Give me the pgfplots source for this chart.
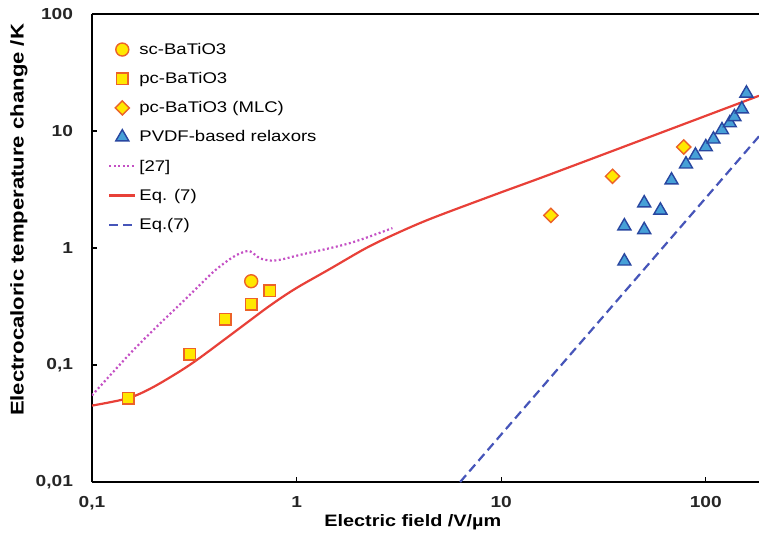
\documentclass[border=0pt]{standalone}
\usepackage{pgfplots}
\pgfplotsset{compat=1.18}
\usepackage{fontspec}
\setmainfont[FakeStretch=1.2]{Liberation Sans}

\definecolor{mkfill}{RGB}{255,232,0}
\definecolor{mkedge}{RGB}{236,98,40}
\definecolor{trifill}{RGB}{70,160,215}
\definecolor{triedge}{RGB}{40,70,160}
\definecolor{redline}{RGB}{232,64,56}
\definecolor{dotline}{RGB}{196,80,196}
\definecolor{dashline}{RGB}{70,85,185}

\begin{document}
\begin{tikzpicture}
\begin{axis}[
    width=667bp, height=468bp, scale only axis,
    xmode=log, ymode=log,
    xmin=0.1, xmax=182, ymin=0.01, ymax=100,
    axis x line=box, axis y line=left,
    x axis line style={-}, y axis line style={-},
    axis line style={line width=1.6bp, black},
    tick align=inside, xtick pos=left, ytick pos=left,
    major tick length=5bp,
    every tick/.style={black, line width=1.2bp},
    xminorticks=false, yminorticks=false,
    xtick={0.1,1,10,100}, xticklabels={{0,1},1,10,100},
    ytick={0.01,0.1,1,10,100}, yticklabels={{0,01},{0,1},1,10,100},
    tick label style={font=\bfseries\fontsize{16}{18}\selectfont, text=black!85},
    yticklabel style={xshift=-15.5bp},
    xticklabel style={yshift=-11bp},
    xlabel={Electric field /V/µm},
    ylabel={Electrocaloric temperature change /K},
    xlabel style={font=\bfseries\fontsize{16.6}{18}\selectfont, at={(axis description cs:0.481,-0.0855)}, anchor=center},
    ylabel style={font=\bfseries\fontsize{18.5}{20}\selectfont, at={(axis description cs:-0.1094,0.56)}, anchor=center},
    legend cell align=left,
    legend image code/.code={\draw[mark repeat=2,mark phase=2,#1] plot coordinates {(0bp,0bp)(13bp,0bp)(26bp,0bp)};},
    legend style={draw=none, fill=none, at={(axis description cs:0,1)}, anchor=north west,
        xshift=16bp, yshift=-27bp, font=\fontsize{15.5}{18}\selectfont,
        row sep=12.5bp, column sep=1bp, inner sep=0pt, nodes={inner sep=2bp}},
]
% model curves
\addplot[forget plot, redline, line width=2.2bp, smooth] coordinates {
 (0.1,0.045) (0.15,0.052) (0.2,0.065) (0.3,0.10) (0.45,0.168) (0.6,0.245)
 (0.71,0.305) (0.85,0.38) (1.03,0.47) (1.45,0.66) (2.19,1.0) (3.1,1.34)
 (4.6,1.8) (9.78,2.95) (19.2,4.55) (182,20)};
\addplot[forget plot, dotline, line width=2.2bp, dash pattern=on 2bp off 2.5bp, smooth] coordinates {
 (0.1,0.055) (0.15,0.12) (0.2,0.2) (0.29,0.374) (0.39,0.62) (0.47,0.8)
 (0.53,0.9) (0.59,0.94) (0.66,0.82) (0.75,0.78) (0.85,0.8) (1.03,0.87)
 (1.82,1.1) (2.94,1.48)};
\addplot[forget plot, dashline, line width=2.2bp, dash pattern=on 9bp off 5bp] coordinates {
 (6.3,0.01) (182,9.0)};
% measurements
\addplot[only marks, mark=*, mark size=6.5bp, mark options={fill=mkfill, draw=mkedge, line width=1.4bp}]
 coordinates {(0.6,0.52)};
\addlegendentry{sc-BaTiO3}
\addplot[only marks, mark=square*, mark size=5.8bp, mark options={fill=mkfill, draw=mkedge, line width=1.4bp}]
 coordinates {(0.15,0.052) (0.3,0.124) (0.447,0.247) (0.6,0.332) (0.74,0.43)};
\addlegendentry{pc-BaTiO3}
\addplot[only marks, mark=square*, mark size=5bp, mark options={rotate=45, fill=mkfill, draw=mkedge, line width=1.4bp}]
 coordinates {(17.5,1.9) (35,4.1) (78,7.3)};
\addlegendentry{pc-BaTiO3 (MLC)}
\addplot[only marks, mark=triangle*, mark size=7.5bp, mark options={fill=trifill, draw=triedge, line width=1.4bp}]
 coordinates {(40,0.77) (40,1.54) (50,1.43) (50,2.42) (60,2.1) (68,3.8) (80,5.2)
 (89,6.2) (100,7.3) (109,8.5) (120,10.2) (131,11.7) (138,13.2) (150,15.4) (158,21)};
\addlegendentry{PVDF-based relaxors}
\addlegendimage{dotline, line width=2.2bp, dash pattern=on 2bp off 2.5bp}
\addlegendentry{[27]}
\addlegendimage{redline, line width=2.2bp}
\addlegendentry{Eq. (7)}
\addlegendimage{dashline, line width=2.2bp, dash pattern=on 9bp off 5bp}
\addlegendentry{Eq.(7)}
\coordinate (ll) at (rel axis cs:0,0);
\coordinate (ur) at (rel axis cs:1,1);
\end{axis}
\pgfresetboundingbox
\path ([shift={(-92bp,-64bp)}]ll) rectangle ([shift={(0bp,14bp)}]ur);
\end{tikzpicture}
\end{document}
